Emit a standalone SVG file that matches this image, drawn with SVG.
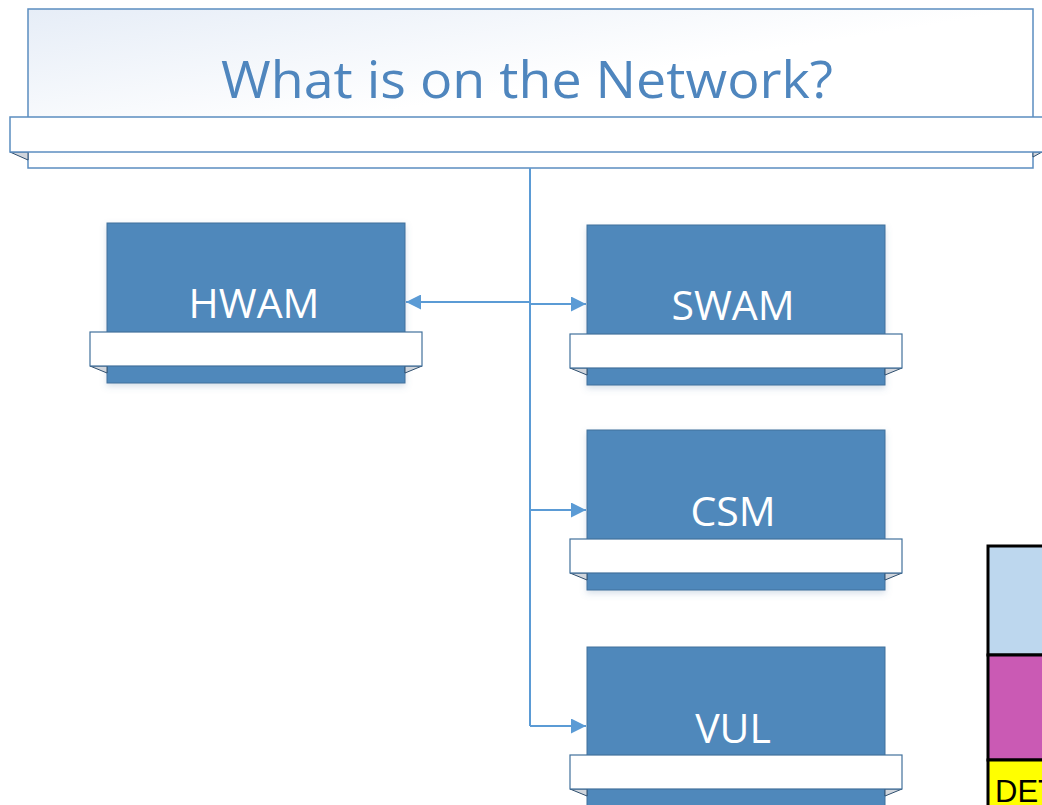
<svg xmlns="http://www.w3.org/2000/svg" width="1042" height="805" viewBox="0 0 1042 805">
<style>
.box{fill:#4F88BB;stroke:#41719C;stroke-width:1}
.band{fill:#FFFFFF;stroke:#41719C;stroke-width:1.2}
.fold{fill:#D0D5DC;stroke:#2F4F6F;stroke-width:1}
.lbl{font-family:"Open Sans","Noto Sans",sans-serif;font-size:41px;fill:#FFFFFF;text-anchor:middle}
.conn{stroke:#5B9BD5;stroke-width:2;fill:none}
.cell{stroke:#000;stroke-width:3}
</style>
<defs>
<linearGradient id="tg" x1="0" y1="0" x2="1" y2="1">
<stop offset="0" stop-color="#E6EDF7"/>
<stop offset="0.5" stop-color="#FFFFFF"/>
<stop offset="1" stop-color="#FFFFFF"/>
</linearGradient>
<marker id="ah2" viewBox="0 0 10 10" refX="10" refY="5" markerWidth="18" markerHeight="15" markerUnits="userSpaceOnUse" orient="auto-start-reverse">
<path d="M0,0 L10,5 L0,10 z" fill="#5B9BD5"/>
</marker>
<filter id="sh" x="-10%" y="-10%" width="120%" height="130%">
<feDropShadow dx="0" dy="3" stdDeviation="3" flood-color="#5B7FA8" flood-opacity="0.25"/>
</filter>
</defs>

<g id="title">
<rect x="28" y="9" width="1005" height="159" fill="url(#tg)" stroke="#5B8DC0" stroke-width="1.5"/>
<polygon points="10,152 28,160 28,152" class="fold"/>
<polygon points="1042,152 1033,157 1033,152" class="fold"/>
<rect x="10" y="117" width="1040" height="35" fill="#FFFFFF" stroke="#5B8DC0" stroke-width="1.5"/>
<text x="527" y="98" font-family="'Open Sans','Noto Sans',sans-serif" font-size="52" fill="#4F86BE" text-anchor="middle" textLength="612" lengthAdjust="spacingAndGlyphs">What is on the Network?</text>
</g>

<g id="connectors">
<line x1="530" y1="168" x2="530" y2="726" class="conn"/>
<line x1="530" y1="302" x2="406" y2="302" class="conn" marker-end="url(#ah2)"/>
<line x1="530" y1="304" x2="586" y2="304" class="conn" marker-end="url(#ah2)"/>
<line x1="530" y1="510" x2="586" y2="510" class="conn" marker-end="url(#ah2)"/>
<line x1="530" y1="726" x2="586" y2="726" class="conn" marker-end="url(#ah2)"/>
</g>

<g id="hwam">
<rect x="107" y="223" width="298" height="160" class="box" filter="url(#sh)"/>
<polygon points="90,366 107,373 107,366" class="fold"/>
<polygon points="422,366 405,373 405,366" class="fold"/>
<rect x="90" y="332" width="332" height="34" class="band"/>
<text x="254" y="318" class="lbl">HWAM</text>
</g>

<g id="swam">
<rect x="587" y="225" width="298" height="160" class="box" filter="url(#sh)"/>
<polygon points="570,368 587,375 587,368" class="fold"/>
<polygon points="902,368 885,375 885,368" class="fold"/>
<rect x="570" y="334" width="332" height="34" class="band"/>
<text x="733" y="320" class="lbl">SWAM</text>
</g>

<g id="csm">
<rect x="587" y="430" width="298" height="160" class="box" filter="url(#sh)"/>
<polygon points="570,573 587,580 587,573" class="fold"/>
<polygon points="902,573 885,580 885,573" class="fold"/>
<rect x="570" y="539" width="332" height="34" class="band"/>
<text x="733" y="526" class="lbl">CSM</text>
</g>

<g id="vul">
<rect x="587" y="647" width="298" height="170" class="box"/>
<polygon points="570,789 587,796 587,789" class="fold"/>
<polygon points="902,789 885,796 885,789" class="fold"/>
<rect x="570" y="755" width="332" height="34" class="band"/>
<text x="733" y="743" class="lbl">VUL</text>
</g>

<g id="legend">
<rect x="988" y="546" width="60" height="109" fill="#BDD7EE" class="cell"/>
<rect x="988" y="655" width="60" height="105" fill="#CA5AB4" class="cell"/>
<rect x="988" y="760" width="60" height="50" fill="#FFFF00" class="cell"/>
<text x="995" y="802" font-family="'Liberation Sans',Arial,sans-serif" font-size="31" fill="#000">DET</text>
</g>
</svg>
